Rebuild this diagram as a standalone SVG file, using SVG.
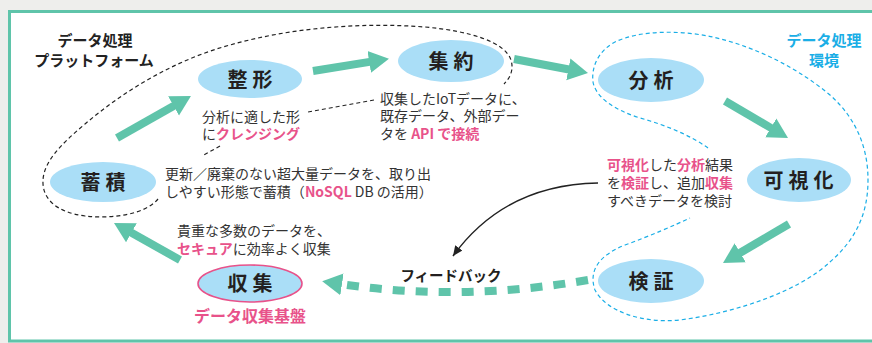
<svg xmlns="http://www.w3.org/2000/svg" width="872" height="343" viewBox="0 0 872 343">
<defs>
<style>
text{font-family:"Noto Sans CJK JP","Noto Sans",sans-serif;}
.node{fill:#aadef7;}
.lbl{font-size:20px;font-weight:700;fill:#231f20;letter-spacing:5px;text-anchor:middle;}
.d{font-size:14px;fill:#333;}
.p{fill:#e8528a;font-weight:700;}
.ttl{font-size:15px;font-weight:700;text-anchor:middle;}
.arr{stroke:#5fc4aa;stroke-width:8;fill:none;marker-end:url(#th);}
.bd{fill:none;stroke:#222;stroke-width:1.2;stroke-dasharray:4 3;}
.cd{fill:none;stroke:#1aaee6;stroke-width:1.2;stroke-dasharray:4 3;}
</style>
<marker id="th" markerUnits="userSpaceOnUse" markerWidth="22" markerHeight="24" viewBox="0 -12 22 24" refX="2" refY="0" orient="auto">
<path d="M0,-11 L20,0 L0,11 z" fill="#5fc4aa"/>
</marker>
<marker id="bh" markerUnits="userSpaceOnUse" markerWidth="12" markerHeight="10" viewBox="0 -5 12 10" refX="10" refY="0" orient="auto">
<path d="M0,-4.5 L10,0 L0,4.5 z" fill="#222"/>
</marker>
</defs>
<rect x="0" y="0" width="872" height="343" fill="#eeeeec"/>
<rect x="9.5" y="11.5" width="875" height="329.5" fill="#fff" stroke="#5fc4aa" stroke-width="3"/>

<g id="boundaries">
<path class="bd" d="M158,199 C145,215 110,219 85,216 C55,212 42,198 43,180 C44,162 60,145 85,124 C125,90 175,60 230,45 C290,28 360,22 425,27 C470,31 505,42 511,60 C514,70 510,78 504,84"/>
<path class="bd" d="M374,100 L308,112"/>
<path class="bd" d="M220,146 L202,156"/>
<path class="cd" d="M708,148 C690,135 665,125 640,118 C615,110 596,98 593,82 C591,65 600,50 615,42 C640,30 680,30 713,37 C760,48 800,70 830,95 C858,120 868,150 868,180 C868,215 855,240 830,262 C800,290 740,312 680,320 C640,324 605,310 595,290 C588,270 600,255 625,245 C650,236 675,225 690,218"/>
<text class="ttl" fill="#222" x="95" y="46">データ処理</text>
<text class="ttl" fill="#222" x="94" y="66">プラットフォーム</text>
<text class="ttl" fill="#1aaee6" x="824" y="46">データ処理</text>
<text class="ttl" fill="#1aaee6" x="824" y="66">環境</text>
</g>

<g id="connectors">
<line class="arr" x1="117" y1="138" x2="175.3" y2="104.9"/>
<line class="arr" x1="313" y1="71" x2="371.2" y2="61.6"/>
<line class="arr" x1="514" y1="59" x2="570.3" y2="69.7"/>
<line class="arr" x1="725" y1="101" x2="772.5" y2="128.9"/>
<line class="arr" x1="789" y1="224" x2="738.5" y2="253.8"/>
<line class="arr" x1="180" y1="260" x2="129.7" y2="231.8"/>
<path d="M588,280 Q460,302 340,284" fill="none" stroke="#5fc4aa" stroke-width="8" stroke-dasharray="12 11" marker-end="url(#th)"/>
<path d="M598,183 C540,184 490,205 453,256" fill="none" stroke="#222" stroke-width="1.5" marker-end="url(#bh)"/>
<text x="451" y="281" font-size="14.5" font-weight="700" fill="#231f20" text-anchor="middle">フィードバック</text>
</g>

<g id="n-seikei">
<ellipse class="node" cx="250" cy="79" rx="52" ry="19"/>
<text class="lbl" x="252.5" y="87">整形</text>
<text class="d" x="202" y="122">分析に適した形</text>
<text class="d" x="202" y="139">に<tspan class="p">クレンジング</tspan></text>
</g>

<g id="n-shuyaku">
<ellipse class="node" cx="451" cy="61" rx="53" ry="21"/>
<text class="lbl" x="453.5" y="69">集約</text>
<text class="d" x="380" y="104">収集したIoTデータに、</text>
<text class="d" x="380" y="121">既存データ、外部デー</text>
<text class="d" x="380" y="139">タを <tspan class="p">API で接続</tspan></text>
</g>

<g id="n-bunseki">
<ellipse class="node" cx="651" cy="80" rx="53" ry="22"/>
<text class="lbl" x="653.5" y="88">分析</text>
</g>

<g id="n-kashika">
<ellipse class="node" cx="799" cy="180" rx="52" ry="22"/>
<text class="lbl" x="801" y="188" letter-spacing="4">可視化</text>
<text class="d" x="607" y="170"><tspan class="p">可視化</tspan>した<tspan class="p">分析</tspan>結果</text>
<text class="d" x="607" y="188">を<tspan class="p">検証</tspan>し、追加<tspan class="p">収集</tspan></text>
<text class="d" x="607" y="206">すべきデータを検討</text>
</g>

<g id="n-kensho">
<ellipse class="node" cx="651" cy="281" rx="53" ry="22"/>
<text class="lbl" x="653.5" y="289">検証</text>
</g>

<g id="n-shushu">
<ellipse class="node" cx="250" cy="283.5" rx="52" ry="18.5" stroke="#e8528a" stroke-width="1.6"/>
<text class="lbl" x="252.5" y="291">収集</text>
<text class="d" x="177" y="236">貴重な多数のデータを、</text>
<text class="d" x="177" y="254"><tspan class="p">セキュア</tspan>に効率よく収集</text>
<text x="250" y="322" font-size="16" font-weight="700" fill="#e8528a" text-anchor="middle">データ収集基盤</text>
</g>

<g id="n-chikuseki">
<ellipse class="node" cx="103" cy="182" rx="53" ry="20"/>
<text class="lbl" x="105.5" y="190">蓄積</text>
<text class="d" x="165" y="179">更新／廃棄のない超大量データを、取り出</text>
<text class="d" x="165" y="197">しやすい形態で蓄積（<tspan class="p">NoSQL</tspan> DB の活用）</text>
</g>
</svg>
